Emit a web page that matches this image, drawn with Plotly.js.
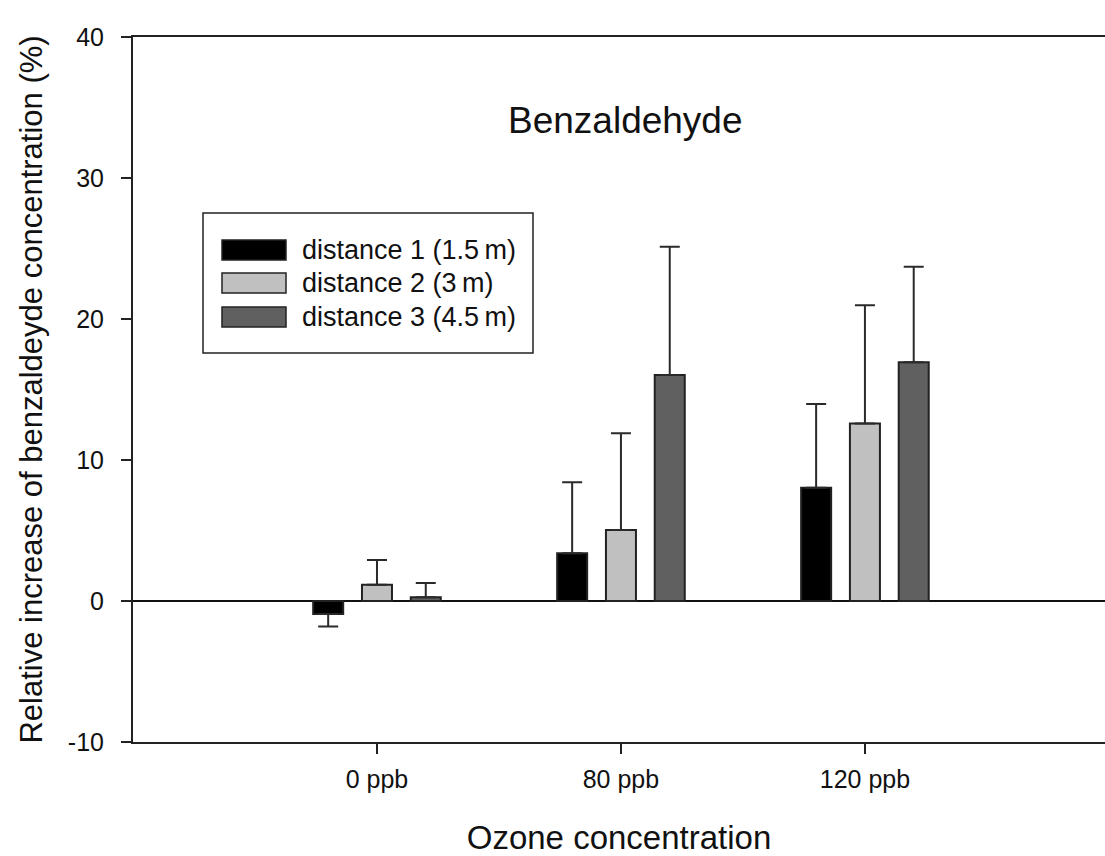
<!DOCTYPE html>
<html>
<head>
<meta charset="utf-8">
<script src="https://cdn.plot.ly/plotly-3.0.1.min.js"></script>
<style>html,body{margin:0;padding:0;background:#fff;}#chart{width:1105px;height:856px;}</style>
</head>
<body>
<div id="chart"></div>
<script>
// ---- data ----
const categories = ["0 ppb", "80 ppb", "120 ppb"];
const seriesNames = ["distance 1 (1.5\u2009m)", "distance 2 (3\u2009m)", "distance 3 (4.5\u2009m)"];
const distance1 = [-0.92, 3.38, 8.04];
const distance2 = [1.16, 5.03, 12.58];
const distance3 = [0.26, 16.03, 16.93];
const distance1ErrUp = [0, 5.04, 5.93];
const distance1ErrDown = [0.88, 0, 0];
const distance2ErrUp = [1.74, 6.86, 8.39];
const distance3ErrUp = [1.02, 9.10, 6.78];
const yTickValues = [-10, 0, 10, 20, 30, 40];
const yTickLabels = ["-10", "0", "10", "20", "30", "40"];
const chartTitle = "Benzaldehyde";
const xTitle = "Ozone concentration";
const yTitle = "Relative increase of benzaldeyde concentration (%)";

const colors = ["#000000", "#c0c0c0", "#606060"];
const FONT = "Liberation Sans, Arial, sans-serif";

function errY(up, down) {
  return {type: "data", symmetric: false, array: up, arrayminus: down,
          color: "#2a2a2a", thickness: 2, width: 10};
}
const zeros = [0, 0, 0];
const values = [distance1, distance2, distance3];
const errs = [errY(distance1ErrUp, distance1ErrDown), errY(distance2ErrUp, zeros), errY(distance3ErrUp, zeros)];

const traces = values.map((v, i) => ({
  type: "bar", x: categories, y: v, name: seriesNames[i],
  marker: {color: colors[i], line: {color: "#222", width: 2}},
  error_y: errs[i], showlegend: false, hoverinfo: "x+y"
}));

// manual legend (box + swatches + labels) in paper coords
const L = {l: 133, t: 37, w: 972, h: 705};
const px = x => (x - L.l) / L.w;
const py = y => (L.t + L.h - y) / L.h;
const shapes = [{type: "rect", xref: "paper", yref: "paper",
  x0: px(203), x1: px(533), y0: py(353), y1: py(213),
  line: {color: "#222", width: 1.5}, fillcolor: "#fff"}];
const annotations = [{text: chartTitle, xref: "paper", yref: "paper",
  x: px(625), y: py(121), showarrow: false, xanchor: "center", yanchor: "middle",
  font: {family: FONT, size: 37, color: "#111"}}];
const rowCenters = [250, 283, 317];
seriesNames.forEach((n, i) => {
  const c = rowCenters[i];
  shapes.push({type: "rect", xref: "paper", yref: "paper",
    x0: px(222), x1: px(286), y0: py(c + 10), y1: py(c - 10),
    line: {color: "#222", width: 1.5}, fillcolor: colors[i]});
  annotations.push({text: n, xref: "paper", yref: "paper", x: px(300), y: py(c),
    showarrow: false, xanchor: "left", yanchor: "middle",
    font: {family: FONT, size: 27, color: "#111"}});
});

const layout = {
  width: 1105, height: 856,
  margin: {l: 133, r: 0, t: 37, b: 114},
  paper_bgcolor: "#fff", plot_bgcolor: "#fff",
  barmode: "group", bargap: 0.4, bargroupgap: 0.385,
  font: {family: FONT, color: "#111"},
  xaxis: {type: "category", range: [-1, 2.984], showgrid: false,
    showline: true, linecolor: "#222", linewidth: 2, mirror: true,
    ticks: "outside", ticklen: 10, tickwidth: 1.5, tickcolor: "#222",
    ticklabelstandoff: 4,
    tickfont: {family: FONT, size: 25, color: "#111"},
    title: {text: xTitle, standoff: 34, font: {family: FONT, size: 33, color: "#111"}},
    zeroline: false, fixedrange: true},
  yaxis: {range: [-10, 40], tickvals: yTickValues, ticktext: yTickLabels, showgrid: false,
    showline: true, linecolor: "#222", linewidth: 2, mirror: false,
    ticks: "outside", ticklen: 10, tickwidth: 1.5, tickcolor: "#222",
    ticklabelstandoff: 12,
    tickfont: {family: FONT, size: 25, color: "#111"},
    title: {text: yTitle, standoff: 16, font: {family: FONT, size: 31, color: "#111"}},
    zeroline: true, zerolinecolor: "#111", zerolinewidth: 1.5, fixedrange: true},
  shapes: shapes, annotations: annotations, showlegend: false
};

Plotly.newPlot("chart", traces, layout, {displayModeBar: false, staticPlot: true});
</script>
</body>
</html>
